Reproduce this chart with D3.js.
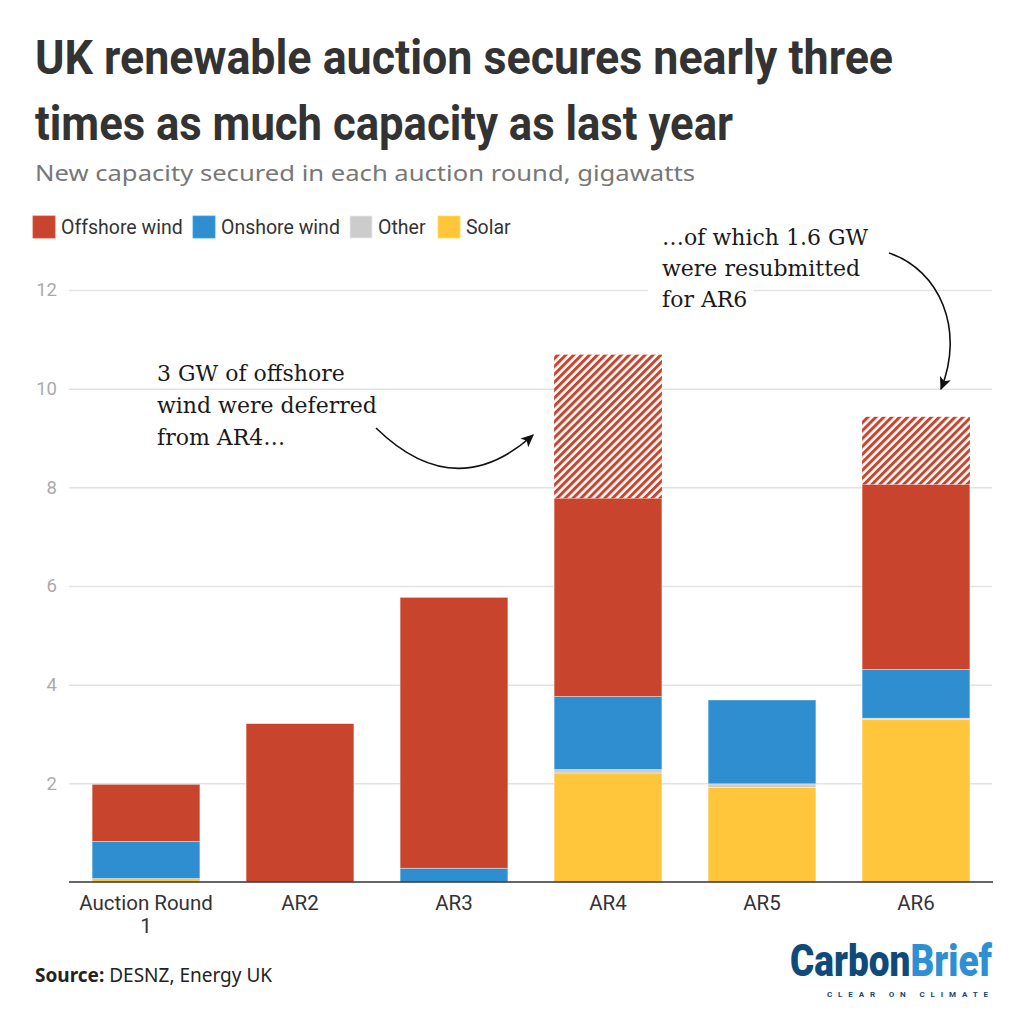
<!DOCTYPE html>
<html><head><meta charset="utf-8">
<script src="https://cdn.jsdelivr.net/npm/d3@7"></script>
<style>
html,body{margin:0;padding:0;background:#fff;}
svg{display:block;}
</style></head>
<body>
<svg id="chart" width="1024" height="1024"></svg>
<script>
// ---- data ----
const categories = ["Auction Round 1", "AR2", "AR3", "AR4", "AR5", "AR6"];
const solar    = [0.07, 0,    0,    2.21, 1.92, 3.29];
const other    = [0,    0,    0,    0.07, 0.07, 0.03];
const onshore  = [0.75, 0,    0.28, 1.48, 1.70, 0.99];
const offshore = [1.16, 3.21, 5.49, 4.02, 0,    3.75];
const deferred = [0,    0,    0,    2.91, 0,    1.37];
const yTicks = [2, 4, 6, 8, 10, 12];
const legendLabels = ["Offshore wind", "Onshore wind", "Other", "Solar"];

const C = {offshore:"#C8442D", onshore:"#2F8ECF", other:"#CCCCCC", solar:"#FFC53B"};

const svg = d3.select("#chart");

// defs: hatch pattern + arrow marker
const defs = svg.append("defs");
const pat = defs.append("pattern").attr("id","hatch").attr("patternUnits","userSpaceOnUse")
  .attr("width",5.6).attr("height",10).attr("patternTransform","rotate(45)");
pat.append("rect").attr("width",5.6).attr("height",10).attr("fill","#fff");
pat.append("rect").attr("width",3).attr("height",10).attr("fill",C.offshore);
defs.append("marker").attr("id","arrow").attr("viewBox","0 0 10 10").attr("refX",9).attr("refY",5)
  .attr("markerWidth",13).attr("markerHeight",13).attr("markerUnits","userSpaceOnUse")
  .attr("orient","auto").append("path").attr("d","M0,0.5 L10,5 L0,9.5 L2.5,5 Z").attr("fill","#111");

// ---- title ----
svg.append("text").attr("x",35).attr("y",74).text("UK renewable auction secures nearly three")
  .attr("font-family","Roboto, sans-serif").attr("font-weight",700).attr("font-size",48).attr("fill","#333")
  .attr("textLength",858).attr("lengthAdjust","spacingAndGlyphs");
svg.append("text").attr("x",35).attr("y",140).text("times as much capacity as last year")
  .attr("font-family","Roboto, sans-serif").attr("font-weight",700).attr("font-size",48).attr("fill","#333")
  .attr("textLength",698).attr("lengthAdjust","spacingAndGlyphs");
svg.append("text").attr("x",35).attr("y",181).text("New capacity secured in each auction round, gigawatts")
  .attr("font-family","'Noto Sans', 'Open Sans', sans-serif").attr("font-size",22.5).attr("fill","#777")
  .attr("textLength",660).attr("lengthAdjust","spacingAndGlyphs");

// ---- legend ----
const legendX = [33, 193, 350, 438];
const legendCol = [C.offshore, C.onshore, C.other, C.solar];
const leg = svg.append("g");
legendLabels.forEach((l,i)=>{
  leg.append("rect").attr("x",legendX[i]).attr("y",216).attr("width",22).attr("height",22)
    .attr("fill",legendCol[i]).attr("stroke",d3.color(legendCol[i]).brighter(0.4)).attr("stroke-width",0.8);
  leg.append("text").attr("x",legendX[i]+28).attr("y",234).text(l)
    .attr("font-family","Roboto, sans-serif").attr("font-size",19.5).attr("fill","#333");
});

// ---- scales ----
const x = d3.scaleBand().domain(categories).range([69, 993]).paddingInner(0.3).paddingOuter(0.15);
const y = d3.scaleLinear().domain([0, 12]).range([882, 290]);

// grid + y labels
const gy = svg.append("g").attr("transform","translate(69,0)")
  .call(d3.axisLeft(y).tickValues(yTicks).tickSize(-923).tickFormat(d3.format("d")));
gy.select(".domain").remove();
gy.selectAll(".tick line").attr("stroke","#e2e2e2").attr("stroke-width",1.5);
gy.selectAll(".tick text").attr("x",-12).attr("font-family","Roboto, sans-serif").attr("font-size",18.5).attr("fill","#aaa");

// ---- stacked bars ----
const keys = ["solar","other","onshore","offshore","deferred"];
const series = {solar, other, onshore, offshore, deferred};
const rows = categories.map((c,i)=>{const r={cat:c}; keys.forEach(k=>r[k]=series[k][i]); return r;});
const stack = d3.stack().keys(keys)(rows);
const fillFor = k => k==="deferred" ? "url(#hatch)" : C[k];
const bars = svg.append("g");
stack.forEach(s=>{
  bars.append("g").selectAll("rect").data(s.filter(d=>d[1]-d[0]>0)).join("rect")
    .attr("x",d=>x(d.data.cat)).attr("width",x.bandwidth())
    .attr("y",d=>y(d[1])).attr("height",d=>y(d[0])-y(d[1]))
    .attr("fill",fillFor(s.key))
    .attr("stroke", s.key==="deferred" ? "none" : "rgba(255,255,255,0.55)").attr("stroke-width",0.7);
});

// ---- x axis ----
const gx = svg.append("g").attr("transform","translate(0,882)")
  .call(d3.axisBottom(x).tickSize(0));
gx.select(".domain").attr("d","M69,0H993").attr("stroke","#333").attr("stroke-width",1.5);
gx.selectAll(".tick text").attr("font-family","Roboto, sans-serif").attr("font-size",20.5).attr("fill","#333")
  .each(function(d){
    const t = d3.select(this); t.text(null);
    const parts = d.length>10 ? [d.slice(0,d.lastIndexOf(" ")), d.slice(d.lastIndexOf(" ")+1)] : [d];
    parts.forEach((p,i)=>t.append("tspan").attr("x",0).attr("y",28+i*23).text(p));
  }).attr("dy",null);

// ---- annotations ----
function annot(xp, lines, base, gap){
  const g = svg.append("g");
  lines.forEach((l,i)=>{
    const r = g.append("rect").attr("fill","#fff");
    const t = g.append("text").attr("x",xp).attr("y",base+i*gap).text(l)
      .attr("font-family","'DejaVu Serif', serif").attr("font-size",22).attr("fill","#1a1a1a");
    const b = t.node().getBBox();
    r.attr("x",b.x-14).attr("y",b.y-2).attr("width",b.width+20).attr("height",b.height+4);
  });
  g.selectAll("text").raise();
}
annot(157, ["3 GW of offshore","wind were deferred","from AR4…"], 381, 32);
annot(662, ["…of which 1.6 GW","were resubmitted","for AR6"], 245, 31);

svg.append("path").attr("d","M376,428 Q455,505 533,435").attr("fill","none")
  .attr("stroke","#111").attr("stroke-width",1.6).attr("marker-end","url(#arrow)");
svg.append("path").attr("d","M889,253 C940,270 965,330 941,389").attr("fill","none")
  .attr("stroke","#111").attr("stroke-width",1.6).attr("marker-end","url(#arrow)");

// ---- source ----
const src = svg.append("text").attr("x",35).attr("y",982)
  .attr("font-family","'Noto Sans', 'Open Sans', sans-serif").attr("font-size",19).attr("fill","#222");
src.append("tspan").attr("font-weight",700).text("Source:");
src.append("tspan").text(" DESNZ, Energy UK");

// ---- logo (single text, two-tone via hard-stop gradient, condensed via scale) ----
const logoX = 790, logoW = 202, logoSize = 44;
const probe = svg.append("text").attr("font-family","Roboto, sans-serif").attr("font-weight",900).attr("font-size",logoSize);
probe.text("Carbon"); const wC = probe.node().getComputedTextLength();
probe.text("CarbonBrief"); const wAll = probe.node().getComputedTextLength();
probe.remove();
const split = wC / wAll;
const fs = logoSize * logoW / wAll;       // font size giving the wanted width
const sy = logoSize / fs;                 // vertical stretch to keep cap height
const lg = defs.append("linearGradient").attr("id","logoGrad").attr("gradientUnits","userSpaceOnUse")
  .attr("x1",0).attr("x2",logoW).attr("y1",0).attr("y2",0);
lg.append("stop").attr("offset",split).attr("stop-color","#0E4A7A");
lg.append("stop").attr("offset",split).attr("stop-color","#2F8FD4");
svg.append("g").attr("transform",`translate(${logoX},976) scale(1,${sy})`)
  .append("text").attr("x",0).attr("y",0).text("CarbonBrief")
  .attr("font-family","Roboto, sans-serif").attr("font-weight",900).attr("font-size",fs).attr("fill","url(#logoGrad)")
  .attr("textLength",logoW).attr("lengthAdjust","spacingAndGlyphs");
svg.append("text").attr("x",827).attr("y",997).text("CLEAR ON CLIMATE")
  .attr("font-family","Roboto, sans-serif").attr("font-weight",700).attr("font-size",8).attr("fill","#0E4A7A")
  .attr("textLength",161).attr("lengthAdjust","spacing");
</script>
</body></html>
